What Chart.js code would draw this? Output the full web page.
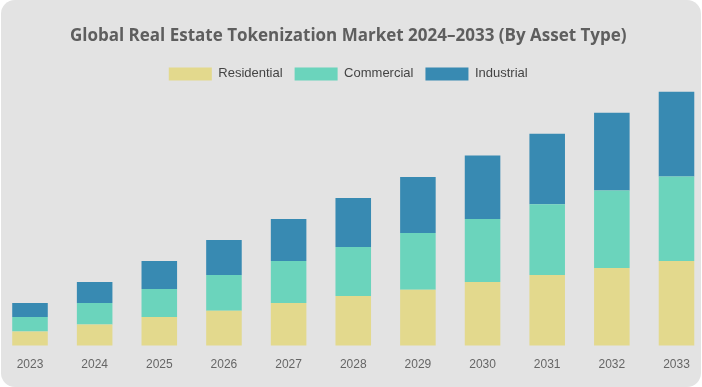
<!DOCTYPE html>
<html>
<head>
<meta charset="utf-8">
<script src="https://cdn.jsdelivr.net/npm/chart.js@4/dist/chart.umd.min.js"></script>
<style>
    html, body { margin: 0; padding: 0; background: #ffffff; }
    #card {
        position: absolute; left: 1px; top: 0; width: 700px; height: 387px;
        background: #e3e3e3; border-radius: 14px;
    }
    #wrap { position: absolute; left: 0; top: 0; width: 702px; height: 387px; }
</style>
</head>
<body>
<div id="card"></div>
<div id="wrap"><canvas id="marketChart" width="702" height="387"></canvas></div>
<script>
const years = ['2023', '2024', '2025', '2026', '2027', '2028', '2029', '2030', '2031', '2032', '2033'];
const residential = [2.0, 3.0, 4.1, 5.0, 6.1, 7.1, 8.0, 9.1, 10.1, 11.1, 12.1];
const commercial = [2.1, 3.1, 4.0, 5.1, 6.0, 7.0, 8.1, 9.0, 10.1, 11.1, 12.1];
const industrial = [2.0, 3.0, 4.0, 5.0, 6.0, 7.0, 8.0, 9.1, 10.1, 11.1, 12.1];

const ctx = document.getElementById('marketChart').getContext('2d');
const marketChart = new Chart(ctx, {
    type: 'bar',
    data: {
        labels: years,
        datasets: [{
            label: 'Residential',
            data: residential,
            backgroundColor: '#e3d98d'
        }, {
            label: 'Commercial',
            data: commercial,
            backgroundColor: '#6bd4bc'
        }, {
            label: 'Industrial',
            data: industrial,
            backgroundColor: '#388ab2'
        }]
    },
    options: {
        responsive: false,
        animation: false,
        layout: {
            padding: { left: 20, right: 25.5, top: 0, bottom: 11 }
        },
        datasets: {
            bar: {
                categoryPercentage: 1,
                barPercentage: 0.55,
                borderWidth: 0,
                clip: false
            }
        },
        plugins: {
            title: {
                display: true,
                text: 'Global Real Estate Tokenization Market 2024–2033 (By Asset Type)',
                color: '#5e5e5e',
                font: { family: 'Open Sans', size: 17, weight: 'bold' },
                padding: { top: 26, bottom: 9 }
            },
            legend: {
                display: true,
                labels: {
                    boxWidth: 43,
                    boxHeight: 13,
                    padding: 12,
                    color: '#444444',
                    font: { family: 'Liberation Sans', size: 13 }
                }
            },
            tooltip: { enabled: false }
        },
        scales: {
            x: {
                stacked: true,
                offset: false,
                grid: { display: false },
                border: { display: false },
                ticks: {
                    color: '#666666',
                    padding: 4,
                    font: { family: 'Liberation Sans', size: 12 }
                }
            },
            y: {
                stacked: true,
                min: 0,
                max: 36.5,
                grid: { display: false },
                border: { display: false },
                ticks: { display: false },
                afterFit: function (scale) {
                    scale.width = 10;
                }
            }
        }
    }
});
</script>
</body>
</html>
